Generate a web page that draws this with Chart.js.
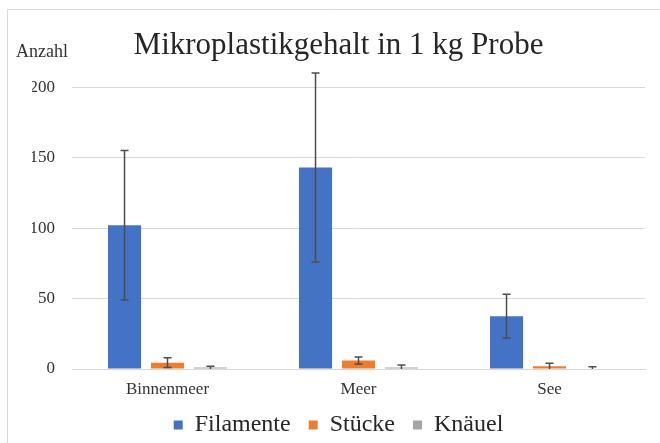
<!DOCTYPE html>
<html>
<head>
<meta charset="utf-8">
<script src="https://cdn.jsdelivr.net/npm/chart.js@4/dist/chart.umd.min.js"></script>
<style>
  body { margin: 0; background: #fff; }
</style>
</head>
<body>
<canvas id="mpChart" width="660" height="443"></canvas>
<script>
const categories = ["Binnenmeer", "Meer", "See"];
const filamente = [102, 143, 37.5];
const filamenteErr = [53, 67, 15.5];
const stuecke = [4.5, 6, 2];
const stueckeErr = [3.5, 2.5, 2];
const knaeuel = [1, 1, 0.3];
const knaeuelErr = [1, 1.8, 1.3];
const yTicks = [0, 50, 100, 150, 200];

const serif = "'Liberation Serif', 'Times New Roman', serif";

// draws the whisker for each bar from its error array
const errorBars = {
  id: "errorBars",
  afterDatasetsDraw(chart) {
    const ctx = chart.ctx;
    const y = chart.scales.y;
    ctx.save();
    ctx.strokeStyle = "#4d4d4d";
    ctx.lineWidth = 1.5;
    chart.data.datasets.forEach((ds, i) => {
      const meta = chart.getDatasetMeta(i);
      meta.data.forEach((bar, j) => {
        const v = ds.data[j];
        const e = ds.errors[j];
        const top = y.getPixelForValue(v + e);
        const bot = y.getPixelForValue(Math.max(v - e, 0));
        ctx.beginPath();
        ctx.moveTo(bar.x, top);
        ctx.lineTo(bar.x, bot);
        ctx.moveTo(bar.x - 4, top);
        ctx.lineTo(bar.x + 4, top);
        if (v - e > 0) {
          ctx.moveTo(bar.x - 4, bot);
          ctx.lineTo(bar.x + 4, bot);
        }
        ctx.stroke();
      });
    });
    ctx.restore();
  }
};

// frame of the chart area and the "Anzahl" axis label
const extras = {
  id: "extras",
  beforeDraw(chart) {
    const ctx = chart.ctx;
    ctx.save();
    ctx.fillStyle = "#fff";
    ctx.fillRect(0, 0, chart.width, chart.height);
    ctx.strokeStyle = "#d9d9d9";
    ctx.lineWidth = 1;
    ctx.beginPath();
    ctx.moveTo(7.5, chart.height + 5);
    ctx.lineTo(7.5, 9.5);
    ctx.lineTo(chart.width + 5, 9.5);
    ctx.stroke();
    ctx.restore();
  },
  afterDraw(chart) {
    const ctx = chart.ctx;
    ctx.save();
    ctx.fillStyle = "#333";
    ctx.font = "18px " + serif;
    ctx.textBaseline = "alphabetic";
    ctx.fillText("Anzahl", 16, 57);
    ctx.restore();
  }
};

new Chart(document.getElementById("mpChart"), {
  type: "bar",
  data: {
    labels: categories,
    datasets: [
      { label: "Filamente", data: filamente, errors: filamenteErr, backgroundColor: "#4472C4" },
      { label: "Stücke", data: stuecke, errors: stueckeErr, backgroundColor: "#ED7D31" },
      { label: "Knäuel", data: knaeuel, errors: knaeuelErr, backgroundColor: "#A5A5A5" },
    ],
  },
  options: {
    responsive: false,
    animation: false,
    categoryPercentage: 0.675,
    barPercentage: 0.77,
    layout: { padding: { left: 32, right: 15, top: 0, bottom: 0 } },
    plugins: {
      title: {
        display: true,
        text: "Mikroplastikgehalt in 1 kg Probe",
        color: "#262626",
        font: { family: serif, size: 31, weight: "normal" },
        padding: { top: 27, bottom: 23 },
      },
      legend: {
        position: "bottom",
        maxHeight: 48,
        labels: {
          color: "#262626",
          font: { family: serif, size: 24 },
          boxWidth: 9,
          boxHeight: 9,
          padding: 18,
        },
      },
      tooltip: { enabled: false },
    },
    scales: {
      x: {
        afterFit(scale) {
          scale.height = 26;
        },
        grid: { display: false, drawTicks: false },
        border: { color: "#d9d9d9" },
        ticks: { color: "#333", font: { family: serif, size: 17 }, padding: 10 },
      },
      y: {
        min: 0,
        max: 200,
        afterBuildTicks(scale) {
          scale.ticks = yTicks.map((v) => ({ value: v }));
        },
        afterFit(scale) {
          scale.width = 40;
        },
        grid: { color: "#d9d9d9", drawTicks: false },
        border: { display: false },
        ticks: { color: "#333", font: { family: serif, size: 17 }, padding: 17 },
      },
    },
  },
  plugins: [errorBars, extras],
});
</script>
</body>
</html>
